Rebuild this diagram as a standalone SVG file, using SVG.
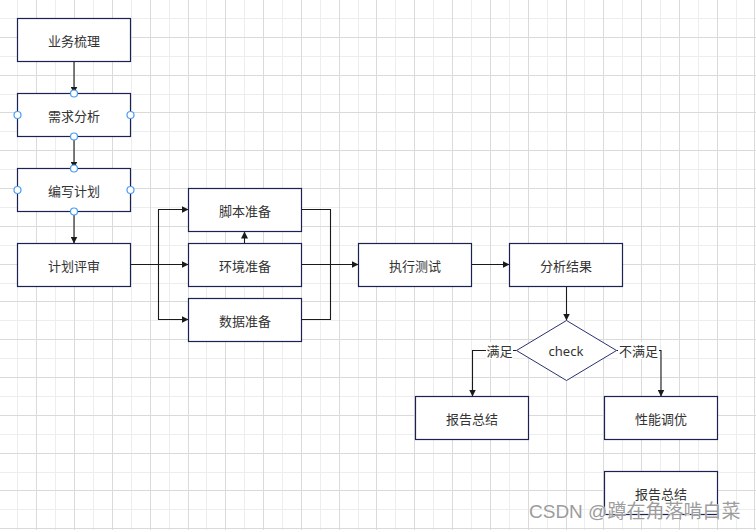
<svg xmlns="http://www.w3.org/2000/svg" width="756" height="530" viewBox="0 0 756 530">
<defs>
<style>
.gl{stroke:#ededed;stroke-width:1;fill:none}
.gd{stroke:#dadada;stroke-width:1;fill:none}
.box{fill:#ffffff;stroke:#1b2150;stroke-width:1.2}
.lbl{font-family:"Noto Sans CJK SC","Noto Sans",sans-serif;font-size:13px;fill:#333333;text-anchor:middle;dominant-baseline:central}
.edge{fill:none;stroke:#1a1a1a;stroke-width:1.1}
.edge-a{fill:none;stroke:#1a1a1a;stroke-width:1.1;marker-end:url(#arr)}
.port{fill:#ffffff;stroke:#4a9cf5;stroke-width:1.2}
.elbl{font-family:"Noto Sans CJK SC","Noto Sans",sans-serif;font-size:13px;fill:#333333;text-anchor:middle;dominant-baseline:central}
</style>
<marker id="arr" viewBox="0 0 10 10" refX="10" refY="5" markerWidth="7" markerHeight="7" markerUnits="userSpaceOnUse" orient="auto">
<path d="M0,0 L10,5 L0,10 z" fill="#1a1a1a"/>
</marker>
</defs>
<rect width="756" height="530" fill="#ffffff"/>
<g id="grid">
<path class="gl" d="M17.5 0V530M55.5 0V530M93.5 0V530M131.5 0V530M169.5 0V530M206.5 0V530M244.5 0V530M282.5 0V530M320.5 0V530M358.5 0V530M395.5 0V530M433.5 0V530M471.5 0V530M509.5 0V530M547.5 0V530M584.5 0V530M622.5 0V530M660.5 0V530M698.5 0V530M736.5 0V530M0 18.5H756M0 56.5H756M0 94.5H756M0 131.5H756M0 169.5H756M0 207.5H756M0 245.5H756M0 283.5H756M0 320.5H756M0 358.5H756M0 396.5H756M0 434.5H756M0 472.5H756M0 509.5H756"/>
<path class="gd" d="M36.5 0V530M74.5 0V530M112.5 0V530M150.5 0V530M188.5 0V530M225.5 0V530M263.5 0V530M301.5 0V530M339.5 0V530M376.5 0V530M414.5 0V530M452.5 0V530M490.5 0V530M528.5 0V530M566.5 0V530M603.5 0V530M641.5 0V530M679.5 0V530M717.5 0V530M754.5 0V530M0 37.5H756M0 75.5H756M0 112.5H756M0 150.5H756M0 188.5H756M0 226.5H756M0 264.5H756M0 301.5H756M0 339.5H756M0 377.5H756M0 415.5H756M0 453.5H756M0 490.5H756M0 528.5H756"/>
</g>
<g id="connectors">
<path class="edge-a" d="M74 61.5V93.5"/>
<path class="edge-a" d="M74 136.5V168.5"/>
<path class="edge-a" d="M74 211.5V243.5"/>
<path class="edge-a" d="M130.5 264.5H188.5"/>
<path class="edge-a" d="M158.5 264.5V209.5H188.5"/>
<path class="edge-a" d="M158.5 264.5V319.5H188.5"/>
<path class="edge-a" d="M244.5 243.5V231.5"/>
<path class="edge" d="M301.5 209.5H330.5V264.5"/>
<path class="edge" d="M301.5 319.5H330.5V264.5"/>
<path class="edge-a" d="M301.5 264.5H358.5"/>
<path class="edge-a" d="M471.5 264.5H509.5"/>
<path class="edge-a" d="M566.5 286.5V320.5"/>
<path class="edge-a" d="M516.5 350.5H472.5V396.5"/>
<path class="edge-a" d="M616.5 350.5H661V396.5"/>
<rect x="486" y="342" width="27" height="17" fill="#ffffff"/>
<text class="elbl" x="499.5" y="350.5">满足</text>
<rect x="618" y="342" width="41" height="17" fill="#ffffff"/>
<text class="elbl" x="638.5" y="350.5">不满足</text>
</g>
<g id="n1"><rect class="box" x="17.5" y="18.5" width="113" height="43"/><text class="lbl" x="74" y="40">业务梳理</text></g>
<g id="n2"><rect class="box" x="17.5" y="93.5" width="113" height="43"/><text class="lbl" x="74" y="115">需求分析</text>
<circle class="port" cx="74" cy="93.5" r="3.5"/><circle class="port" cx="17.5" cy="115" r="3.5"/><circle class="port" cx="130.5" cy="115" r="3.5"/><circle class="port" cx="74" cy="136.5" r="3.5"/></g>
<g id="n3"><rect class="box" x="17.5" y="168.5" width="113" height="43"/><text class="lbl" x="74" y="190">编写计划</text>
<circle class="port" cx="74" cy="168.5" r="3.5"/><circle class="port" cx="17.5" cy="190" r="3.5"/><circle class="port" cx="130.5" cy="190" r="3.5"/><circle class="port" cx="74" cy="211.5" r="3.5"/></g>
<g id="n4"><rect class="box" x="17.5" y="243.5" width="113" height="43"/><text class="lbl" x="74" y="265">计划评审</text></g>
<g id="n5"><rect class="box" x="188.5" y="188.5" width="113" height="43"/><text class="lbl" x="245" y="210">脚本准备</text></g>
<g id="n6"><rect class="box" x="188.5" y="243.5" width="113" height="43"/><text class="lbl" x="245" y="265">环境准备</text></g>
<g id="n7"><rect class="box" x="188.5" y="298.5" width="113" height="43"/><text class="lbl" x="245" y="320">数据准备</text></g>
<g id="n8"><rect class="box" x="358.5" y="243.5" width="113" height="43"/><text class="lbl" x="415" y="265">执行测试</text></g>
<g id="n9"><rect class="box" x="509.5" y="243.5" width="113" height="43"/><text class="lbl" x="566" y="265">分析结果</text></g>
<g id="n10"><polygon points="566.5,320.5 616.5,350.5 566.5,380.5 516.5,350.5" fill="#ffffff" stroke="#2b3170" stroke-width="1"/><text class="lbl" x="566" y="350.5" style="font-family:'Noto Sans',sans-serif">check</text></g>
<g id="n11"><rect class="box" x="415.5" y="396.5" width="113" height="43"/><text class="lbl" x="472" y="418">报告总结</text></g>
<g id="n12"><rect class="box" x="604.5" y="396.5" width="113" height="43"/><text class="lbl" x="661" y="418">性能调优</text></g>
<g id="n13"><rect class="box" x="604.5" y="471.5" width="113" height="43"/><text class="lbl" x="661" y="493">报告总结</text></g>
<text x="529" y="518" font-family="'Liberation Sans','Noto Sans CJK SC',sans-serif" font-size="19" fill="#9c9c9c" stroke="#ffffff" stroke-width="0.6" paint-order="stroke">CSDN @蹲在角落啃白菜</text>
</svg>
